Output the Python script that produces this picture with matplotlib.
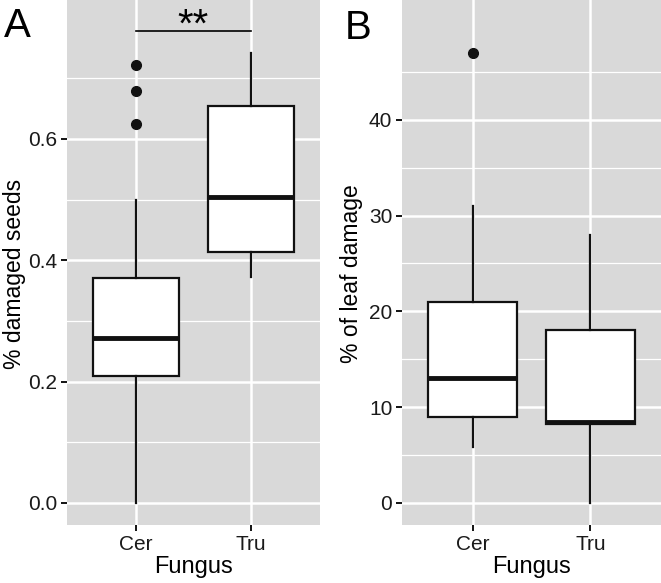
import numpy as np
import matplotlib
matplotlib.use("Agg")
import matplotlib.pyplot as plt

plt.rcParams['font.family'] = ['Liberation Sans', 'DejaVu Sans']

categories = ['Cer', 'Tru']

# panel A: % damaged seeds (whislo, q1, median, q3, whishi)
seeds_stats = [
    [0.0, 0.209, 0.272, 0.370, 0.499],
    [0.372, 0.414, 0.504, 0.654, 0.741],
]
seeds_outliers = [[0.624, 0.679, 0.721], []]
seeds_ticks = [0.0, 0.2, 0.4, 0.6]

# panel B: % of leaf damage
leaf_stats = [
    [5.8, 9.0, 13.0, 21.0, 31.0],
    [0.0, 8.2, 8.4, 18.0, 28.0],
]
leaf_outliers = [[47.0], []]
leaf_ticks = [0, 10, 20, 30, 40]


def make_stats(stats, outliers):
    out = []
    for s, o in zip(stats, outliers):
        out.append(dict(whislo=s[0], q1=s[1], med=s[2], q3=s[3], whishi=s[4], fliers=o))
    return out


def draw_box(ax, stats, outliers):
    ax.bxp(make_stats(stats, outliers), positions=[1, 2], widths=0.75,
           patch_artist=True, showcaps=False, manage_ticks=False,
           boxprops=dict(facecolor='white', edgecolor='#111111', linewidth=1.6),
           whiskerprops=dict(color='#111111', linewidth=1.6),
           medianprops=dict(color='#111111', linewidth=3.5, solid_capstyle='butt'),
           flierprops=dict(marker='o', markerfacecolor='#111111', markeredgecolor='#111111',
                           markersize=7), zorder=3)


def style_panel(ax, ticks, minor, ylim, ylabel, ticklabels, label_x):
    ax.set_facecolor('#d9d9d9')
    for sp in ax.spines.values():
        sp.set_visible(False)
    ax.set_xlim(0.4, 2.6)
    ax.set_ylim(*ylim)
    ax.set_yticks(ticks)
    ax.set_yticklabels(ticklabels)
    ax.set_yticks(minor, minor=True)
    ax.set_xticks([1, 2])
    ax.set_xticklabels(categories)
    ax.grid(True, which='major', color='white', linewidth=1.8, zorder=0)
    ax.grid(True, which='minor', axis='y', color='white', linewidth=0.9, zorder=0)
    ax.tick_params(axis='both', which='major', length=4, width=1.3, color='black',
                   labelsize=15, labelcolor='#1a1a1a', pad=3)
    ax.tick_params(axis='y', which='minor', length=0)
    ax.set_axisbelow(True)
    ax.set_xlabel('Fungus', fontsize=17, labelpad=2)
    ax.set_ylabel(ylabel, fontsize=16.5)
    ax.yaxis.set_label_coords(label_x, 0.478)


fig = plt.figure(figsize=(6.61, 5.83), dpi=100)

W, H = 661, 583
axA = fig.add_axes([67 / W, (H - 525) / H, 253 / W, 525 / H])
axB = fig.add_axes([402 / W, (H - 525) / H, 259 / W, 525 / H])

# panel A
draw_box(axA, seeds_stats, seeds_outliers)
style_panel(axA, seeds_ticks, [0.1, 0.3, 0.5, 0.7], (-0.0363, 0.8287),
            '% damaged seeds', ['0.0', '0.2', '0.4', '0.6'], (26 - 67) / 253)
sig_y = 0.778
axA.plot([1, 2], [sig_y, sig_y], color='black', linewidth=1.2, zorder=4)
axA.text(1.5, 0.768, '**', ha='center', va='baseline', fontsize=29, zorder=4)

# panel B
draw_box(axB, leaf_stats, leaf_outliers)
style_panel(axB, leaf_ticks, [5, 15, 25, 35, 45], (-2.33, 52.53),
            '% of leaf damage', [str(t) for t in leaf_ticks], (363 - 402) / 259)

fig.text(4 / W, 1 - 37 / H, 'A', fontsize=29, ha='left', va='baseline')
fig.text(345 / W, 1 - 39 / H, 'B', fontsize=29, ha='left', va='baseline')

fig.savefig('out.png', dpi=100)
